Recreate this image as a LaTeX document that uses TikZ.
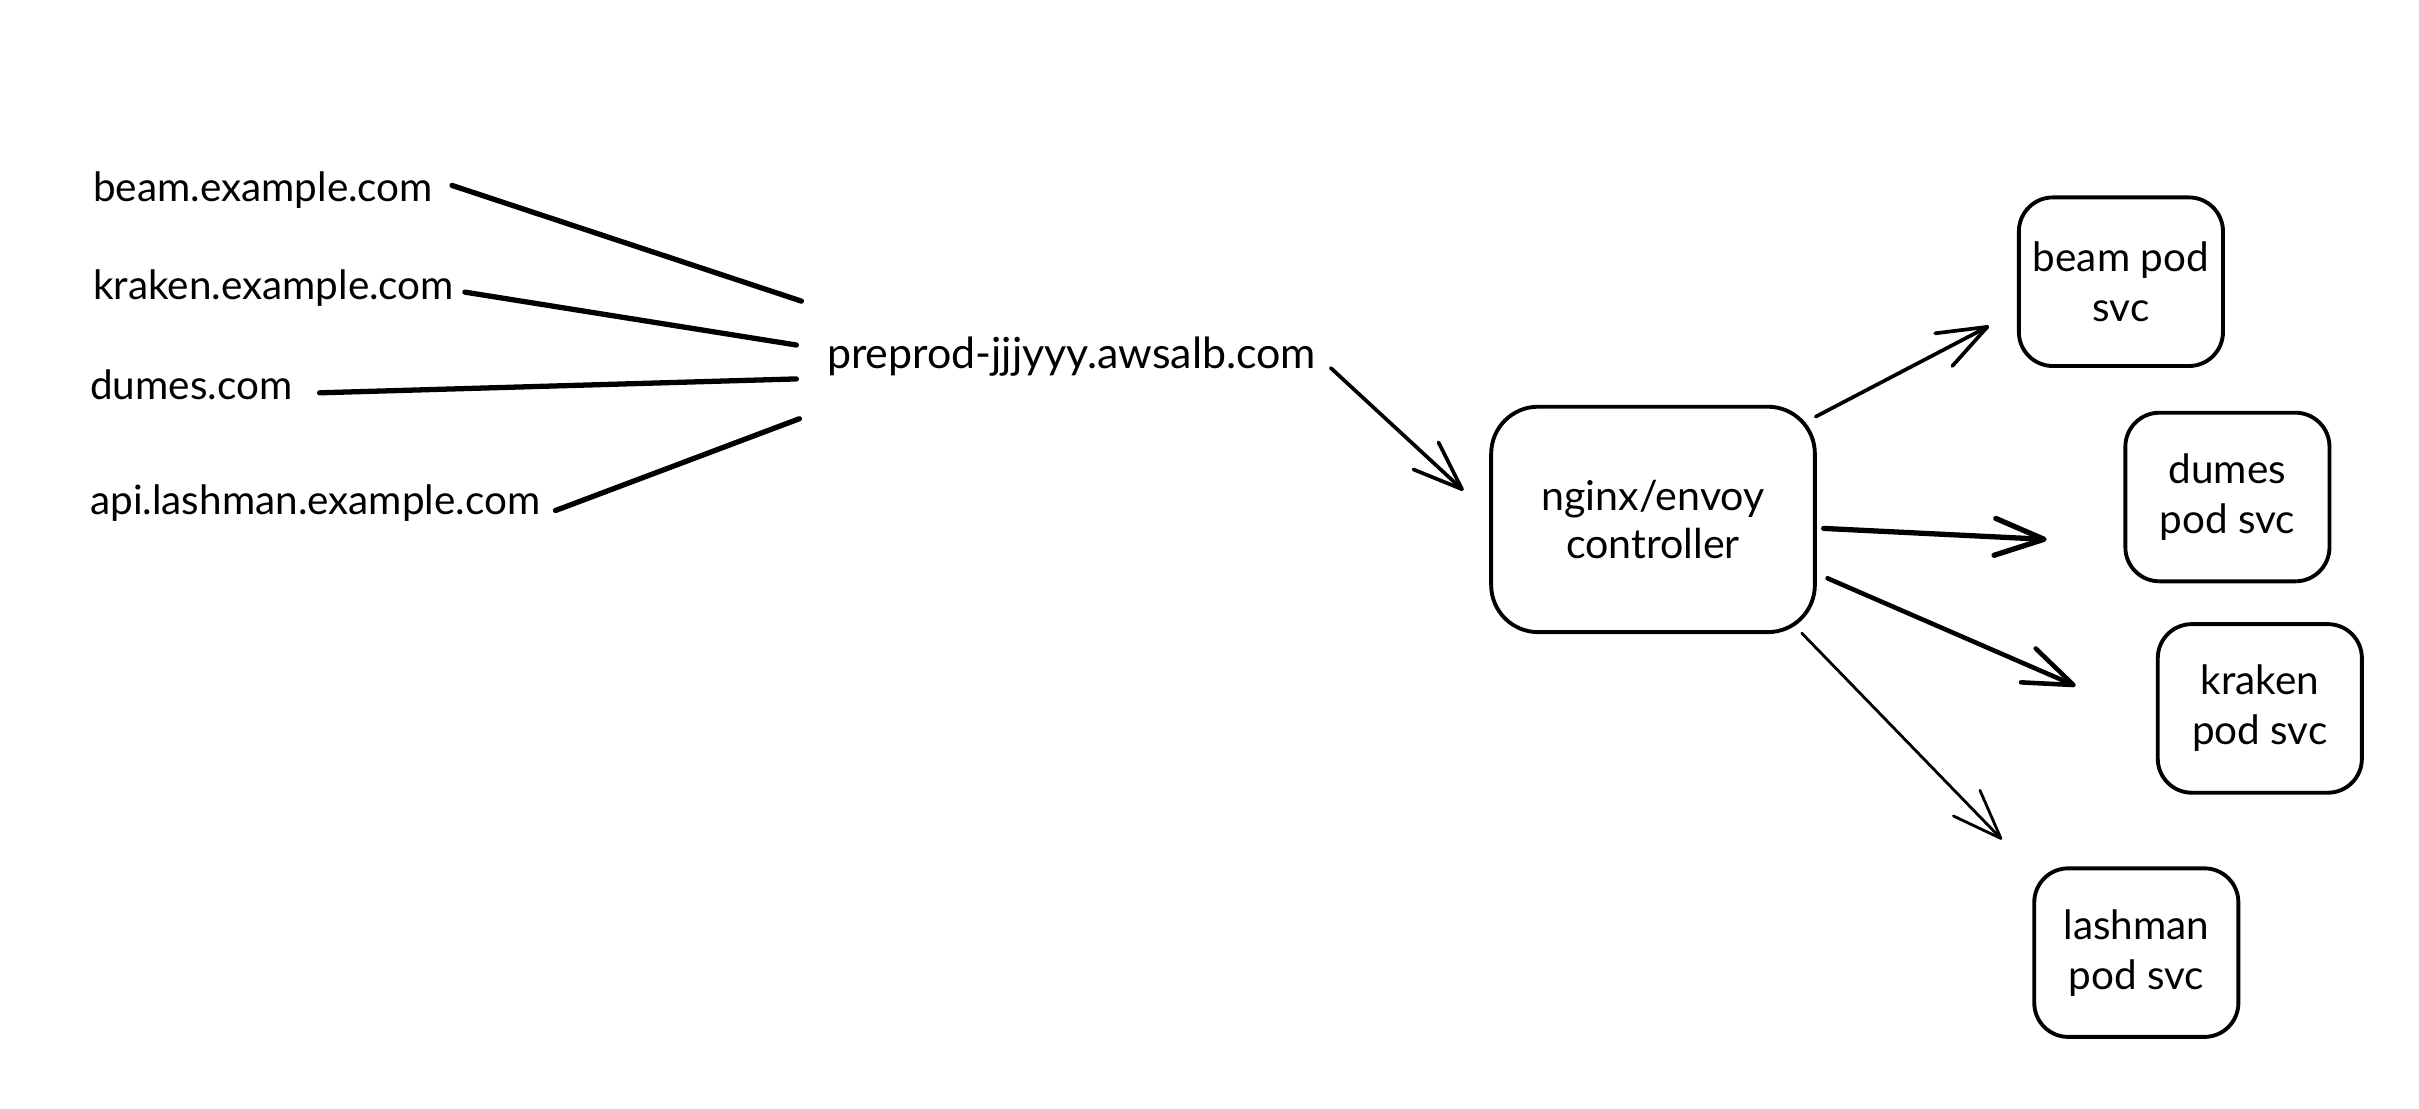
\documentclass[tikz,border=0pt]{standalone}
\usepackage{fontspec}
\setmainfont{Lato}
\usetikzlibrary{arrows.meta,calc}
\begin{document}
\begin{tikzpicture}[x=0.01cm,y=-0.01cm,
  lbl/.style={inner sep=0pt,anchor=base west,font=\fontsize{11.5}{14}\selectfont},
  podbox/.style={draw,line width=1.1pt,rounded corners=0.34cm,minimum width=2.04cm,minimum height=1.685cm,align=center,inner sep=0pt,font=\fontsize{11.5}{14.2}\selectfont},
  ctrlbox/.style={draw,line width=1.1pt,rounded corners=0.47cm,minimum width=3.235cm,minimum height=2.253cm,align=center,inner sep=0pt,font=\fontsize{11.7}{13.6}\selectfont},
  link/.style={line width=1.5pt,line cap=round},
  arr/.style={line width=1.05pt,line cap=round,-{Straight Barb[length=14pt,width=10.5pt,line join=round,line cap=round]}}
]
\useasboundingbox (0,0) rectangle (2419,1108);

\node[lbl] (beamtxt) at (92.6,201.4) {beam.example.com};
\node[lbl] (krakentxt) at (92.6,299.1) {kraken.example.com};
\node[lbl] (dumestxt) at (89.6,399.8) {dumes.com};
\node[lbl] (apitxt) at (89.6,514.5) {api.lashman.example.com};
\node[lbl,font=\fontsize{12.2}{14}\selectfont] (pre) at (826.3,368.9) {preprod-jjjyyy.awsalb.com};

\node[ctrlbox] (ctrl) at (1653,519.4) {nginx/envoy\\controller};

\node[podbox] (beampod) at (2120.9,281.7) {beam pod\\svc};
\node[podbox] (dumespod) at (2227.4,497) {dumes\\pod svc};
\node[podbox] (krakenpod) at (2259.8,708.4) {kraken\\pod svc};
\node[podbox] (lashpod) at (2136.3,952.6) {lashman\\pod svc};

\draw[link] ($(beamtxt.base west)+(359.4,-16)$) -- ($(pre.base west)+(-24.9,-67.8)$);
\draw[link] ($(krakentxt.base west)+(372.3,-7)$) -- ($(pre.base west)+(-29.9,-23.9)$);
\draw[link] ($(dumestxt.base west)+(230,-7)$) -- ($(pre.base west)+(-29.9,10)$);
\draw[link] ($(apitxt.base west)+(465.9,-4)$) -- ($(pre.base west)+(-26.9,49.8)$);

\draw[arr] ($(pre.base east)+(14,-1)$) -- ($(ctrl.west)+(-25.8,-28.9)$);

\draw[arr] ($(ctrl.north east)+(-1.1,11.9)$) -- ($(beampod.west)+(-27.9,44.3)$);
\draw[arr,line width=1.5pt] ($(ctrl.east)+(6.9,9)$) -- ($(dumespod.west)+(-76.7,42.4)$);
\draw[arr,line width=1.3pt] ($(ctrl.east)+(10.8,58.9)$) -- ($(krakenpod.west)+(-80.2,-22.5)$);
\draw[arr,line width=0.8pt] ($(ctrl.south east)+(-15,-0.9)$) -- ($(lashpod.north west)+(-30.4,-26.9)$);
\end{tikzpicture}
\end{document}
